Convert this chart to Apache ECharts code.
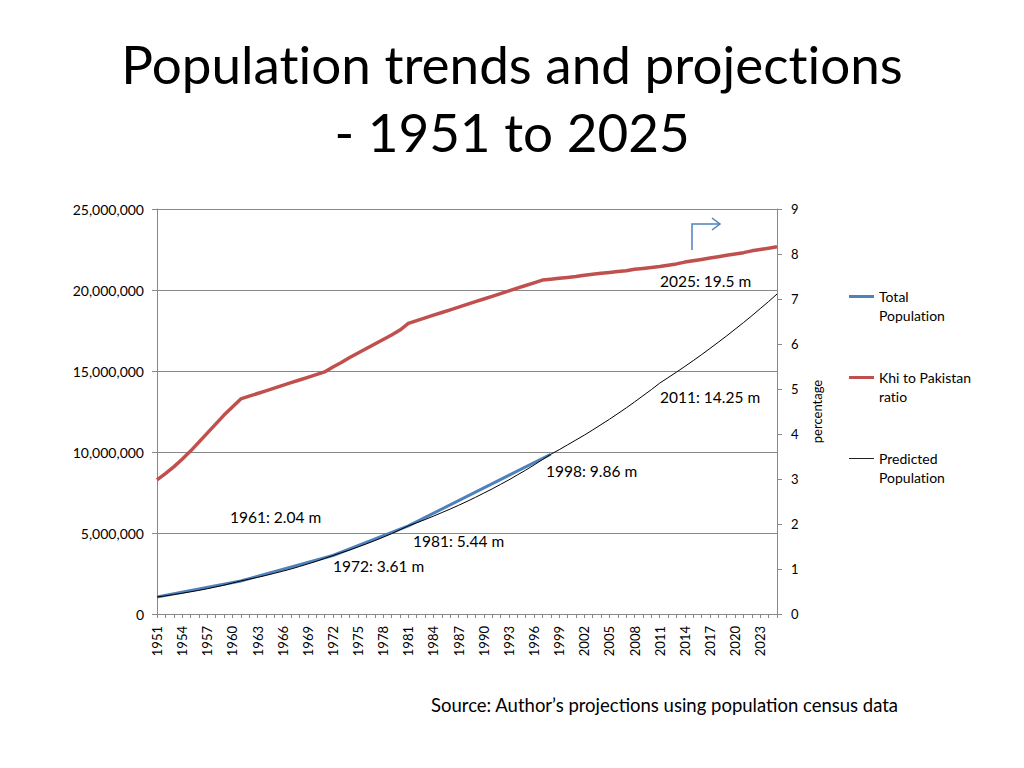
<!DOCTYPE html>
<html><head><meta charset="utf-8">
<script src="https://cdn.jsdelivr.net/npm/echarts@6/dist/echarts.min.js"></script>
<style>html,body{margin:0;padding:0;background:#fff}#c{width:1024px;height:768px}#c text{font-variant-ligatures:none;}</style>
</head><body><div id="c"></div>
<script>
const years = ["1951","1952","1953","1954","1955","1956","1957","1958","1959","1960","1961","1962","1963","1964","1965","1966","1967","1968","1969","1970","1971","1972","1973","1974","1975","1976","1977","1978","1979","1980","1981","1982","1983","1984","1985","1986","1987","1988","1989","1990","1991","1992","1993","1994","1995","1996","1997","1998","1999","2000","2001","2002","2003","2004","2005","2006","2007","2008","2009","2010","2011","2012","2013","2014","2015","2016","2017","2018","2019","2020","2021","2022","2023","2024","2025"];
// Census points (others null, joined by straight segments)
const totalPopulation = [1050000,null,null,null,null,null,null,null,null,null,2040000,null,null,null,null,null,null,null,null,null,null,3610000,null,null,null,null,null,null,null,null,5440000,null,null,null,null,null,null,null,null,null,null,null,null,null,null,null,null,9860000];
const khiRatio = [2.98,3.12,3.27,3.44,3.62,3.82,4.02,4.22,4.42,4.60,4.78,4.84,4.90,4.96,5.02,5.08,5.14,5.20,5.26,5.32,5.38,5.49,5.59,5.70,5.80,5.90,6.00,6.10,6.20,6.31,6.46,6.52,6.58,6.64,6.70,6.76,6.82,6.88,6.94,7.00,7.06,7.12,7.18,7.24,7.30,7.36,7.42,7.44,7.46,7.48,7.50,7.53,7.55,7.57,7.59,7.61,7.63,7.66,7.68,7.70,7.72,7.75,7.78,7.82,7.85,7.88,7.91,7.94,7.97,8.00,8.03,8.07,8.10,8.13,8.16];
const predictedPopulation = [1050000,1120000,1200000,1280000,1370000,1460000,1560000,1670000,1780000,1910000,2040000,2150000,2260000,2380000,2510000,2640000,2780000,2930000,3090000,3250000,3430000,3610000,3780000,3950000,4140000,4330000,4530000,4740000,4960000,5200000,5440000,5630000,5830000,6040000,6260000,6480000,6710000,6950000,7200000,7460000,7720000,8000000,8280000,8580000,8880000,9200000,9530000,9860000,10140000,10440000,10740000,11040000,11360000,11690000,12020000,12370000,12720000,13090000,13470000,13850000,14250000,14590000,14930000,15280000,15640000,16010000,16390000,16780000,17170000,17580000,17990000,18410000,18850000,19290000,19750000];
const leftTicks = [0,5000000,10000000,15000000,20000000,25000000];
const annotations = ["1961: 2.04 m","1972: 3.61 m","1981: 5.44 m","1998: 9.86 m","2011: 14.25 m","2025: 19.5 m"];
const seriesNames = ["Total\nPopulation","Khi to Pakistan\nratio","Predicted\nPopulation"];

const FONT = "Lato";
const chart = echarts.init(document.getElementById('c'), null, {renderer:'svg'});
const annPos = [[230,518],[333,567],[413,542],[546,472],[660,398],[660,282]];
const legendCfg = (name, top, color, h) => ({
  data:[{name:name, icon:'rect', itemStyle:{color:color}}],
  orient:'vertical', left:849, top:top, padding:0, itemWidth:25, itemHeight:h, itemGap:0,
  formatter: n => '\n' + n,
  textStyle:{fontFamily:FONT, fontSize:14, color:'#000', lineHeight:19},
  selectedMode:false
});
chart.setOption({
  animation:false,
  backgroundColor:'#fff',
  title:{text:"Population trends and projections\n- 1951 to 2025", left:'center', top:24,
    textStyle:{fontFamily:FONT, fontSize:53, fontWeight:'normal', color:'#000', lineHeight:68}},
  legend:[
    legendCfg(seriesNames[0], 268, '#4F81BD', 3),
    legendCfg(seriesNames[1], 349, '#C0504D', 3),
    legendCfg(seriesNames[2], 430, '#222', 1)
  ],
  grid:{left:157, right:247, top:209, bottom:154, containLabel:false},
  xAxis:{type:'category', data:years, boundaryGap:false,
    axisLine:{lineStyle:{color:'#888'}},
    axisTick:{show:true, interval:0, length:4, lineStyle:{color:'#888'}},
    axisLabel:{interval:2, rotate:90, fontFamily:FONT, fontSize:13, color:'#000', margin:12}},
  yAxis:[
    {type:'value', min:0, max:25000000, interval:5000000,
     axisLine:{show:true, lineStyle:{color:'#888'}},
     axisTick:{show:true, length:5, lineStyle:{color:'#888'}},
     splitLine:{lineStyle:{color:'#888', width:1}},
     axisLabel:{fontFamily:FONT, fontSize:14, color:'#000', margin:13,
       formatter:v => leftTicks.includes(v) ? v.toLocaleString('en-US') : ''}},
    {type:'value', min:0, max:9, interval:1, position:'right',
     name:'percentage', nameLocation:'middle', nameRotate:90, nameGap:33,
     nameTextStyle:{fontFamily:FONT, fontSize:13, color:'#000'},
     axisLine:{show:true, lineStyle:{color:'#888'}},
     axisTick:{show:true, length:5, lineStyle:{color:'#888'}},
     splitLine:{show:false},
     axisLabel:{fontFamily:FONT, fontSize:13, color:'#000', margin:14}}
  ],
  series:[
    {name:seriesNames[0], type:'line', data:totalPopulation, connectNulls:true, showSymbol:false, symbol:'none',
     lineStyle:{color:'#4F81BD', width:3}, itemStyle:{color:'#4F81BD'}, z:2},
    {name:seriesNames[1], type:'line', yAxisIndex:1, data:khiRatio, showSymbol:false, symbol:'none',
     lineStyle:{color:'#C0504D', width:3.5}, itemStyle:{color:'#C0504D'}, z:2},
    {name:seriesNames[2], type:'line', data:predictedPopulation, showSymbol:false, symbol:'none', smooth:false,
     lineStyle:{color:'#000', width:1}, itemStyle:{color:'#222'}, z:3}
  ],
  graphic:[
    ...annotations.map((t,i)=>({type:'text', left:annPos[i][0], top:annPos[i][1]-9,
      style:{text:t, font:'15.5px '+FONT, fill:'#000'}})),
    {type:'polyline', shape:{points:[[692,250],[692,224],[720,224]]}, style:{stroke:'#4F81BD', lineWidth:1.5, fill:null}},
    {type:'polyline', shape:{points:[[712,218],[720,224],[712,230]]}, style:{stroke:'#4F81BD', lineWidth:1.5, fill:null}},
    {type:'text', left:431, top:695, style:{text:"Source: Author\u2019s projections using population census data", font:'18.5px '+FONT, fill:'#000'}}
  ]
});
</script></body></html>
